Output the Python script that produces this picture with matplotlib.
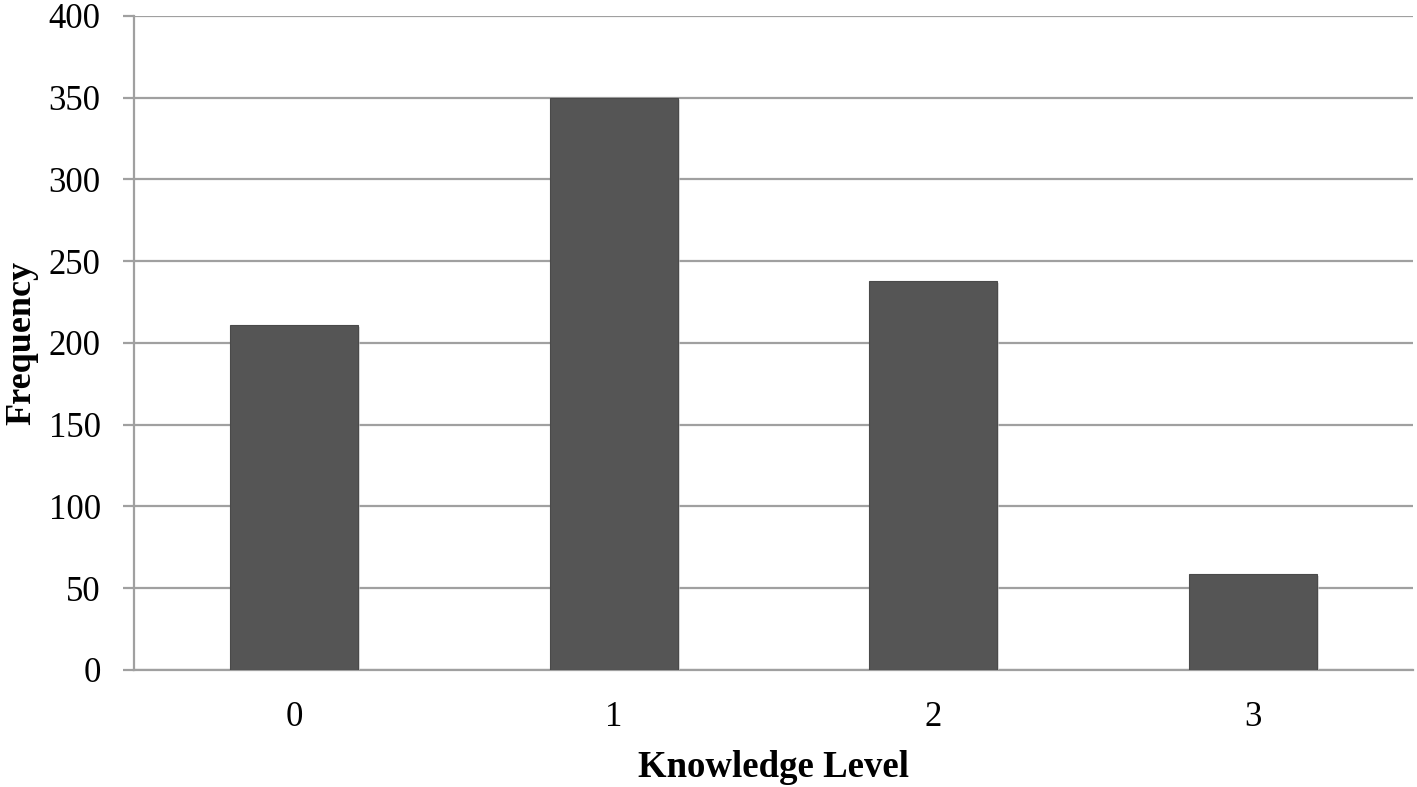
import matplotlib.pyplot as plt
import matplotlib.patheffects as pe

# Knowledge level frequencies
levels = ['0', '1', '2', '3']
frequency = [211, 350, 238, 59]
y_ticks = [0, 50, 100, 150, 200, 250, 300, 350, 400]

plt.rcParams['font.family'] = ['Liberation Serif', 'DejaVu Serif']

fig = plt.figure(figsize=(14.17, 7.87), dpi=100)
ax = fig.add_axes([0.0946, 0.1487, 0.9026, 0.831])

x = range(len(levels))
bars = ax.bar(x, frequency, width=0.4, color='#555555', edgecolor='#4a4a4a',
              linewidth=0.8, zorder=3)
# light shadow like the Excel original
for b in bars:
    b.set_path_effects([pe.SimplePatchShadow(offset=(1.5, -1.5), shadow_rgbFace='#c8c8c8', alpha=0.6),
                        pe.Normal()])

ax.set_xlim(-0.5, len(levels) - 0.5)
ax.set_ylim(0, 400)
ax.set_yticks(y_ticks)
ax.set_xticks(list(x))
ax.set_xticklabels(levels)

ax.yaxis.grid(True, color='#a0a0a0', linewidth=1.6, zorder=0)
ax.set_axisbelow(True)

for side in ['top', 'right']:
    ax.spines[side].set_visible(False)
ax.spines['left'].set_color('#a0a0a0')
ax.spines['left'].set_linewidth(1.6)
ax.spines['bottom'].set_color('#a0a0a0')
ax.spines['bottom'].set_linewidth(1.6)

ax.tick_params(axis='y', length=8, width=1.6, color='#a0a0a0', pad=16, labelsize=25)
ax.tick_params(axis='x', length=0, pad=22, labelsize=25)

ax.set_xlabel('Knowledge Level', fontsize=26.5, fontweight='bold', labelpad=12)
ax.set_ylabel('Frequency', fontsize=26, fontweight='bold', va='center')
ax.yaxis.set_label_coords(-0.088, 0.5)

fig.savefig('out.png', dpi=100)
